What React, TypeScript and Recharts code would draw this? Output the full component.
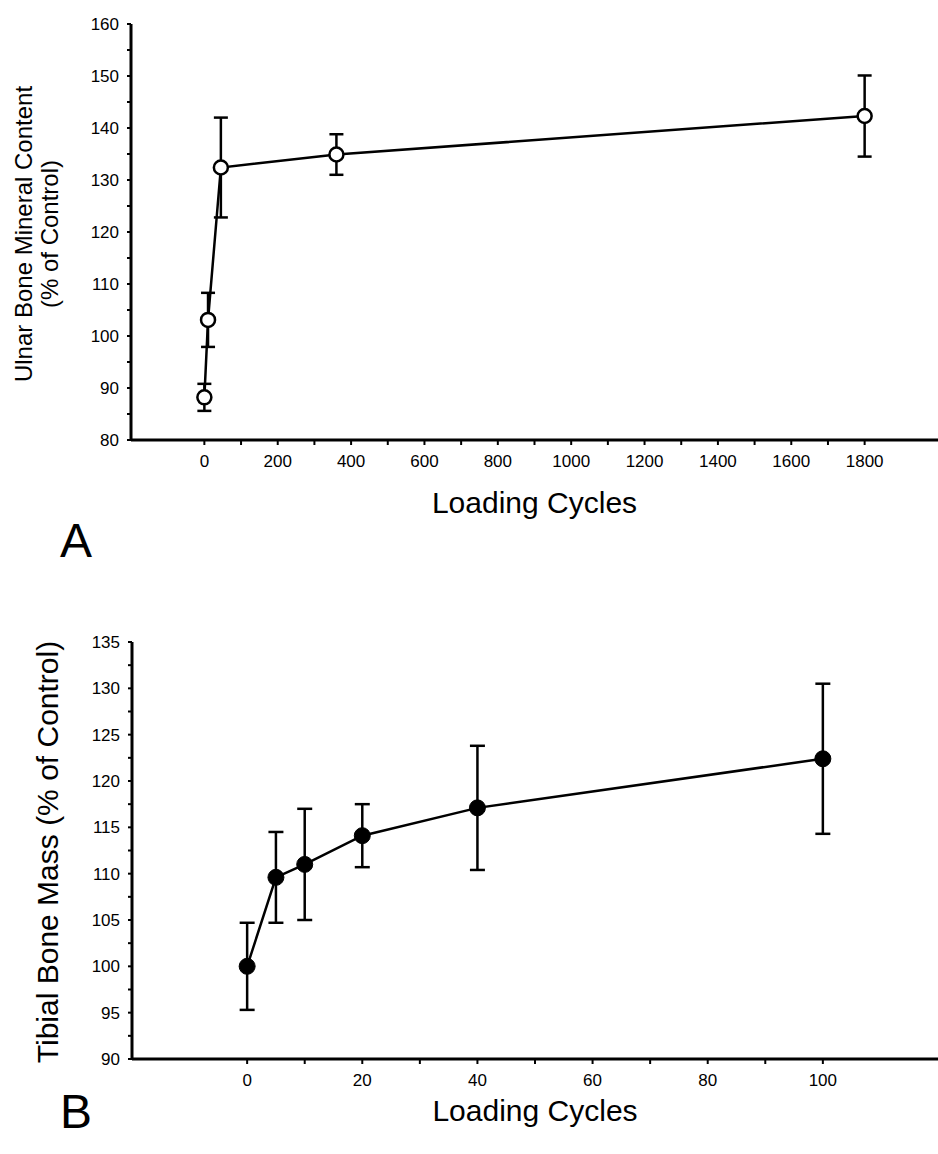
import React from 'react';
import { LineChart, Line, XAxis, YAxis, ErrorBar } from 'recharts';

// Panel A: ulna
const cyclesA = [0, 10, 45, 360, 1800];
const ulnarBMC = [88.2, 103.1, 132.4, 134.9, 142.3];
const ulnarErr = [2.6, 5.2, 9.6, 3.9, 7.8];

// Panel B: tibia
const cyclesB = [0, 5, 10, 20, 40, 100];
const tibialMass = [100, 109.6, 111.0, 114.1, 117.1, 122.4];
const tibialErr = [4.7, 4.9, 6.0, 3.4, 6.7, 8.1];

const ticksAxA = [0, 100, 200, 300, 400, 500, 600, 700, 800, 900, 1000, 1100, 1200, 1300, 1400, 1500, 1600, 1700, 1800];
const ticksAxTop = [-100, 0, 100, 200, 300, 400, 500, 600, 700, 800, 900, 1000, 1100, 1200, 1300, 1400, 1500, 1600, 1700, 1800, 1900];
const ticksAyA = [80, 85, 90, 95, 100, 105, 110, 115, 120, 125, 130, 135, 140, 145, 150, 155, 160];

const ticksBxB = [0, 10, 20, 30, 40, 50, 60, 70, 80, 90, 100];
const ticksBxTop = [-10, 0, 10, 20, 30, 40, 50, 60, 70, 80, 90, 100, 110];
const ticksByB = [90, 92.5, 95, 97.5, 100, 102.5, 105, 107.5, 110, 112.5, 115, 117.5, 120, 122.5, 125, 127.5, 130, 132.5, 135];

const dataA = cyclesA.map((x, i) => ({ x, y: ulnarBMC[i], err: ulnarErr[i] }));
const dataB = cyclesB.map((x, i) => ({ x, y: tibialMass[i], err: tibialErr[i] }));

const FONT = '"Liberation Sans", Arial, Helvetica, sans-serif';
const tickStyle = { fontSize: 17, fill: '#000', fontFamily: FONT };
const axisLine = { stroke: '#000', strokeWidth: 3 };
const tickLine = { stroke: '#000', strokeWidth: 2 };

const every = (step: number) => (v: number) => (Math.abs(v % step) < 1e-6 ? String(v) : '');

const XTitle = (props: any) => {
  const vb = props.viewBox;
  return (
    <text x={vb.x + vb.width / 2} y={vb.y + props.dy} textAnchor="middle" fontSize={30} fontFamily={FONT} fill="#000">
      Loading Cycles
    </text>
  );
};

const YTitleA = () => (
  <g fontFamily={FONT} fontSize={24} fill="#000" textAnchor="middle">
    <text transform="translate(32,234) rotate(-90)">Ulnar Bone Mineral Content</text>
    <text transform="translate(58,234) rotate(-90)">(% of Control)</text>
  </g>
);

const YTitleB = () => (
  <g fontFamily={FONT} fontSize={30} fill="#000" textAnchor="middle">
    <text transform="translate(58,272) rotate(-90)">Tibial Bone Mass (% of Control)</text>
  </g>
);

const panelLetter = (top: number): React.CSSProperties => ({
  position: 'absolute', left: 60, top, fontFamily: FONT, fontSize: 48, color: '#000', lineHeight: 1,
});

export default function App() {
  return (
    <div style={{ position: 'absolute', left: 0, top: 0, width: 938, height: 1154, background: '#fff' }}>
      <div style={{ position: 'absolute', left: 0, top: 0 }}>
        <LineChart width={938} height={520} data={dataA} margin={{ top: 24, right: 0, bottom: 0, left: 71 }}>
          <XAxis
            dataKey="x" type="number" domain={[-200, 2000]} ticks={ticksAxA} allowDataOverflow
            tickFormatter={every(200)} height={80} tickSize={5} tickMargin={10}
            axisLine={axisLine} tickLine={tickLine} tick={tickStyle}
            label={<XTitle dy={73} />}
          />
          <XAxis
            xAxisId="top" orientation="top" dataKey="x" type="number" domain={[-200, 2000]} ticks={ticksAxTop}
            tickFormatter={() => ''} height={0} tickSize={3} axisLine={{ stroke: '#000', strokeWidth: 2.5 }} tickLine={tickLine}
          />
          <YAxis
            type="number" domain={[80, 160]} ticks={ticksAyA} tickFormatter={every(10)} width={60}
            tickSize={4} tickMargin={8} axisLine={axisLine} tickLine={tickLine} tick={tickStyle}
            label={<YTitleA />}
          />
          <Line
            dataKey="y" stroke="#000" strokeWidth={2.5} isAnimationActive={false}
            dot={{ r: 7, fill: '#fff', stroke: '#000', strokeWidth: 2.5 }}
          >
            <ErrorBar dataKey="err" direction="y" width={7} stroke="#000" strokeWidth={2.5} />
          </Line>
        </LineChart>
      </div>
      <div style={panelLetter(517)}>A</div>

      <div style={{ position: 'absolute', left: 0, top: 580 }}>
        <LineChart width={938} height={559} data={dataB} margin={{ top: 62, right: 0, bottom: 0, left: 72 }}>
          <XAxis
            dataKey="x" type="number" domain={[-20, 120]} ticks={ticksBxB} allowDataOverflow
            tickFormatter={every(20)} height={80} tickSize={5} tickMargin={10}
            axisLine={axisLine} tickLine={tickLine} tick={tickStyle}
            label={<XTitle dy={62} />}
          />
          <XAxis
            xAxisId="top" orientation="top" dataKey="x" type="number" domain={[-20, 120]} ticks={ticksBxTop}
            tickFormatter={() => ''} height={0} tickSize={3} axisLine={{ stroke: '#000', strokeWidth: 2.5 }} tickLine={tickLine}
          />
          <YAxis
            type="number" domain={[90, 135]} ticks={ticksByB} tickFormatter={every(5)} width={60}
            tickSize={4} tickMargin={8} axisLine={axisLine} tickLine={tickLine} tick={tickStyle}
            label={<YTitleB />}
          />
          <Line
            dataKey="y" stroke="#000" strokeWidth={2.5} isAnimationActive={false}
            dot={{ r: 8, fill: '#000', stroke: '#000', strokeWidth: 1 }}
          >
            <ErrorBar dataKey="err" direction="y" width={7.5} stroke="#000" strokeWidth={2.5} />
          </Line>
        </LineChart>
      </div>
      <div style={panelLetter(1088)}>B</div>
    </div>
  );
}
